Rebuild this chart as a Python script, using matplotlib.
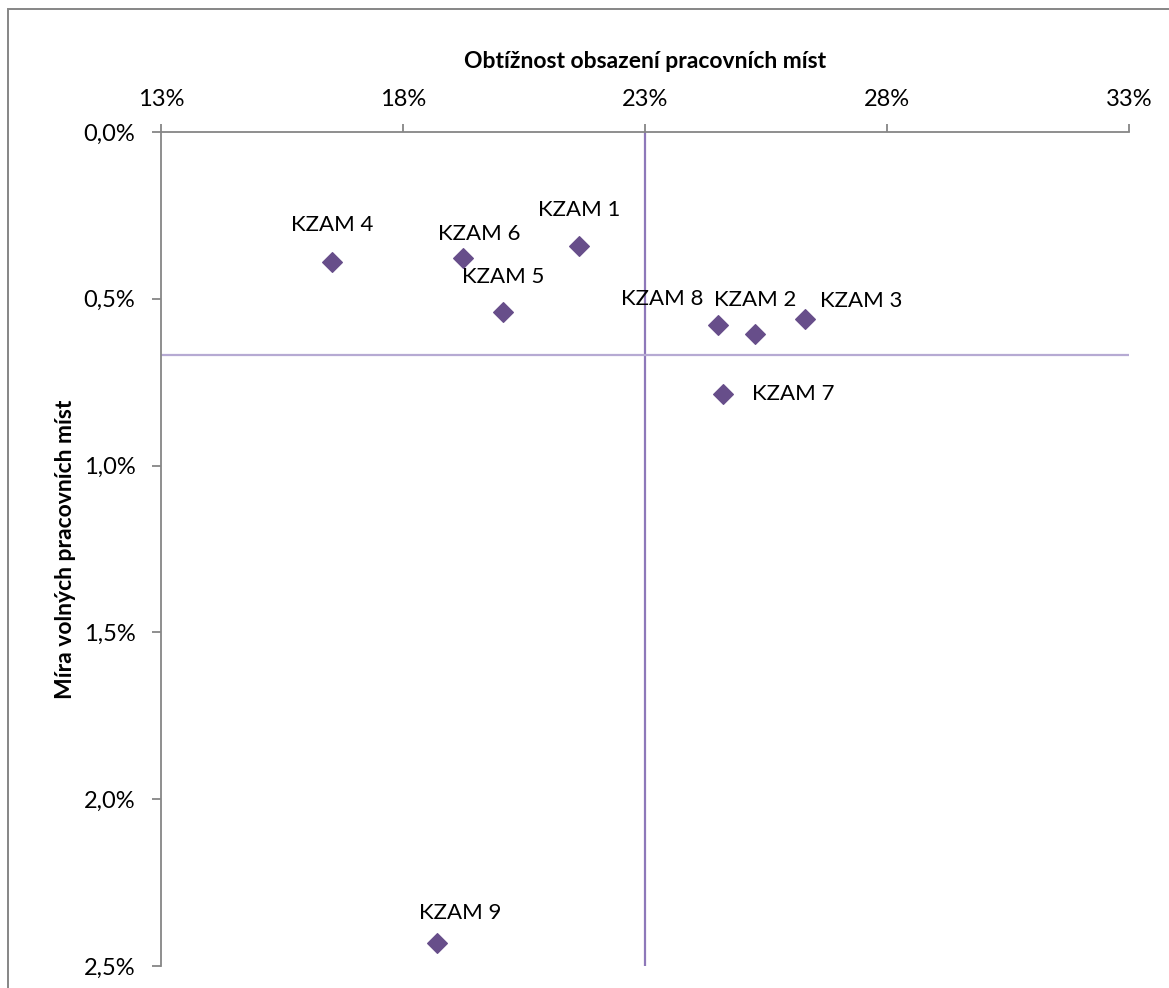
import matplotlib
matplotlib.use('Agg')

import matplotlib.pyplot as plt
import matplotlib.patches as mpatches
from matplotlib.ticker import FuncFormatter

plt.rcParams['font.family'] = ['Lato', 'DejaVu Sans']

# ─── Data (values in %) ───────────────────────────────────────────────────────
labels = ['KZAM 1', 'KZAM 2', 'KZAM 3', 'KZAM 4', 'KZAM 5',
          'KZAM 6', 'KZAM 7', 'KZAM 8', 'KZAM 9']
difficulty = [21.64, 25.27, 26.31, 16.53, 20.07, 19.24, 24.62, 24.51, 18.70]
vacancy = [0.341, 0.606, 0.562, 0.389, 0.540, 0.379, 0.784, 0.579, 2.430]

x_avg = 23.0
y_avg = 0.669

x_ticks = [13, 18, 23, 28, 33]
y_ticks = [0.0, 0.5, 1.0, 1.5, 2.0, 2.5]

x_title = 'Obtížnost obsazení pracovních míst'
y_title = 'Míra volných pracovních míst'

# label offsets in points (text centre relative to marker)
label_offsets = {
    'KZAM 1': (0, 25.5), 'KZAM 2': (0, 24.5), 'KZAM 3': (40, 13.5),
    'KZAM 4': (0, 26.5), 'KZAM 5': (0, 25.5), 'KZAM 6': (12, 17.5),
    'KZAM 7': (50, 0), 'KZAM 8': (-40, 18.5), 'KZAM 9': (17, 21.5),
}

GRAY = '#868686'
MARKER = '#674e8a'

W, H = 1169, 988
fig = plt.figure(figsize=(W / 100, H / 100), dpi=100, facecolor='white')
ax = fig.add_axes([161 / W, 1 - 966 / H, 968 / W, 834 / H])

# ── reference lines ───────────────────────────────────────────────────────────
ax.axvline(x_avg, color='#8e78b9', lw=1.6, zorder=1)
ax.axhline(y_avg, color='#b6aad3', lw=1.6, zorder=1)

# ── points ────────────────────────────────────────────────────────────────────
ax.plot(difficulty, vacancy, linestyle='none', marker='D', ms=10,
        mfc=MARKER, mec=MARKER, mew=0.8, zorder=3)

for lab, x, y in zip(labels, difficulty, vacancy):
    ax.annotate(lab, (x, y), xytext=label_offsets[lab], textcoords='offset points',
                ha='center', va='center', fontsize=16, color='black')

# ── axes ──────────────────────────────────────────────────────────────────────
ax.set_xlim(x_ticks[0], x_ticks[-1])
ax.set_ylim(y_ticks[-1], y_ticks[0])
ax.set_xticks(x_ticks)
ax.set_yticks(y_ticks)
ax.xaxis.set_major_formatter(FuncFormatter(lambda v, p: f'{v:.0f}%'))
ax.yaxis.set_major_formatter(FuncFormatter(lambda v, p: f'{v:.1f}%'.replace('.', ',')))

ax.xaxis.tick_top()
ax.spines['right'].set_visible(False)
ax.spines['bottom'].set_visible(False)
for s in ('top', 'left'):
    ax.spines[s].set_color(GRAY)
    ax.spines[s].set_linewidth(1.3)

ax.tick_params(axis='x', direction='out', length=6, width=1.3, color=GRAY,
               pad=10, labelsize=17, labelcolor='black')
ax.tick_params(axis='y', direction='out', length=6.5, width=1.3, color=GRAY,
               pad=12, labelsize=17, labelcolor='black')

ax.xaxis.set_label_position('top')
ax.set_xlabel(x_title, fontsize=16.5, fontweight='bold')
ax.xaxis.set_label_coords(0.5, 1 + (132 - 68) / 834)
ax.set_ylabel(y_title, fontsize=16.5, fontweight='bold')
ax.yaxis.set_label_coords((76 - 161) / 968, 0.5)

# ── chart-area border (cropped at right and bottom) ───────────────────────────
border = mpatches.Rectangle((8 / W, -0.2), 1.3, 1.2 - 9 / H,
                            transform=fig.transFigure, fill=False,
                            edgecolor=GRAY, lw=1.4)
fig.add_artist(border)

fig.savefig('out.png', dpi=100, facecolor='white')
